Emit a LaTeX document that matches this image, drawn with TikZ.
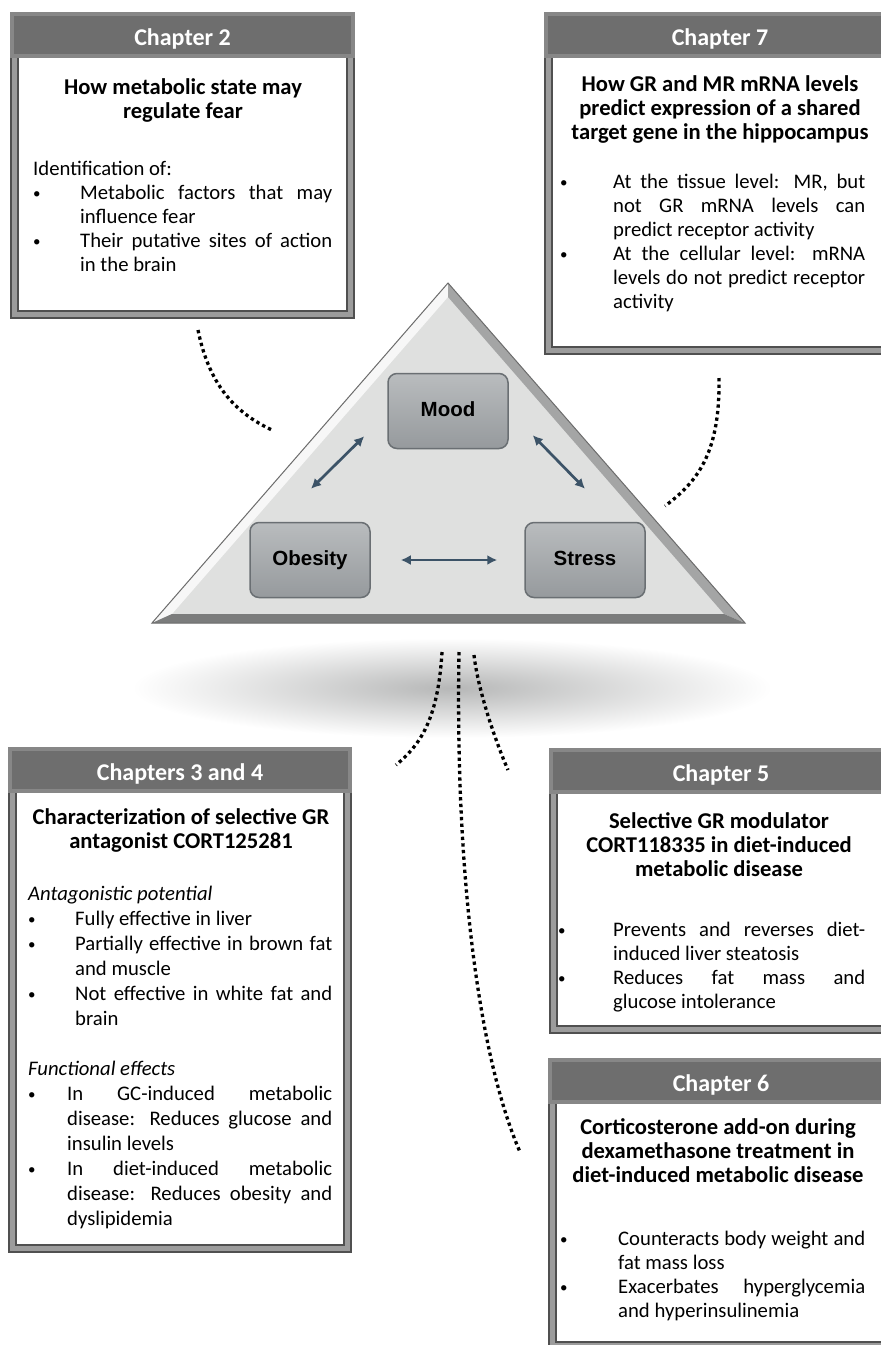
\documentclass[tikz,border=0pt]{standalone}
\usepackage{fontspec}
\setmainfont{Carlito}
\newfontfamily\hubfont{Liberation Sans}
\usetikzlibrary{arrows.meta}

\definecolor{framedark}{HTML}{505050}
\definecolor{framegray}{HTML}{9C9C9C}
\definecolor{headfill}{HTML}{6E6E6E}
\definecolor{headband}{HTML}{878787}
\definecolor{trifill}{HTML}{DFE0DF}
\definecolor{trilight}{HTML}{F7F7F7}
\definecolor{trimid}{HTML}{A4A5A5}
\definecolor{tridark}{HTML}{7B7C7C}
\definecolor{triedge}{HTML}{6C6C6C}
\definecolor{hubtop}{HTML}{B9BCBE}
\definecolor{hubbottom}{HTML}{969A9D}
\definecolor{hubedge}{HTML}{6A6F73}
\definecolor{linkblue}{HTML}{3C5367}
\definecolor{shadowgray}{HTML}{B6B7B7}

% bullet item with hanging indent (paragraph breaks written in the text)
\newcommand\chapitem[1]{\noindent\hangindent=#1\hangafter=1%
	\makebox[#1][l]{\raisebox{1.5pt}{\fontsize{15}{15}\selectfont\textbullet}}\ignorespaces}

\begin{document}
\begin{tikzpicture}[x=1pt, y=-1pt,
	chapbox/.style = {draw=framedark, line width=2pt,
		double=framegray, double distance=5pt, fill=white},
	chaphead/.style = {fill=headfill, draw=headband, line width=4pt,
		text=white, text height=20pt, text depth=0pt,
		font=\bfseries\fontsize{24}{28}\selectfont},
	chaptitle/.style = {anchor=north, align=center, inner sep=0pt,
		font=\bfseries\fontsize{22.6}{24}\selectfont},
	chaptext/.style = {anchor=north west, align=justify, inner sep=0pt,
		font=\fontsize{20.7}{24}\selectfont,
		execute at begin node={\parindent=0pt\tolerance=10000%
			\hyphenpenalty=10000\exhyphenpenalty=10000}},
	hub/.style = {rounded corners=9pt, draw=hubedge, line width=1.5pt,
		top color=hubtop, bottom color=hubbottom,
		minimum width=120pt, minimum height=75pt,
		text height=15pt, text depth=4pt,
		font=\hubfont\bfseries\fontsize{20.5}{24}\selectfont},
	link/.style = {{Latex[length=10pt,width=10pt]}-{Latex[length=10pt,width=10pt]},
		line width=2.7pt, draw=linkblue},
	dotlink/.style = {line width=3.3pt, dash pattern=on 3.3pt off 3.3pt}]

	\useasboundingbox (0,0) rectangle (881,1345);

	% shadow under the triangle
	\shade[inner color=shadowgray, outer color=white] (452,688) ellipse [x radius=320, y radius=50];

	% triangle
	\coordinate (apex) at (448,283);
	\coordinate (baseL) at (152,623);
	\coordinate (baseR) at (745,623);
	\coordinate (iapex) at (448,297);
	\coordinate (ibaseL) at (172,614);
	\coordinate (ibaseR) at (724,614);
	\fill[trifill] (apex) -- (baseR) -- (baseL) -- cycle;
	\fill[trilight] (apex) -- (iapex) -- (ibaseL) -- (baseL) -- cycle;
	\fill[trimid] (apex) -- (baseR) -- (ibaseR) -- (iapex) -- cycle;
	\fill[tridark] (baseL) -- (ibaseL) -- (ibaseR) -- (baseR) -- cycle;
	\draw[triedge, line width=1pt] (apex) -- (baseR) -- (baseL) -- cycle;

	\node[hub] (mood) at (448,411) {Mood};
	\node[hub] (obesity) at (310,560) {Obesity};
	\node[hub] (stress) at (585,560) {Stress};

	\draw[link] ([shift={(-23,-13)}]mood.south west) -- ([shift={(1,-33)}]obesity.north);
	\draw[link] ([shift={(24,-14)}]mood.south east) -- ([shift={(0,-33)}]stress.north);
	\draw[link, shorten <=30pt, shorten >=27pt] (obesity) -- (stress);

	% dotted links
	\coordinate (d2a) at (198,330);
	\coordinate (d2b) at (272,430);
	\coordinate (d7a) at (719,378);
	\coordinate (d7b) at (665,506);
	\coordinate (d34a) at (442,652);
	\coordinate (d34b) at (396,765);
	\coordinate (d6a) at (459,652);
	\coordinate (d6b) at (520,1152);
	\coordinate (d5a) at (474,655);
	\coordinate (d5b) at (508,770);
	\draw[dotlink] (d2a) .. controls (210,390) and (240,415) .. (d2b);
	\draw[dotlink] (d7a) .. controls (720,450) and (700,480) .. (d7b);
	\draw[dotlink] (d34a) .. controls (438,720) and (420,745) .. (d34b);
	\draw[dotlink] (d6a) .. controls (455,880) and (480,1060) .. (d6b);
	\draw[dotlink] (d5a) .. controls (478,690) and (495,740) .. (d5b);

	% Chapter 2
	\node[chapbox, minimum width=336pt, minimum height=298pt] (ch2) at (182.5,165.5) {};
	\node[chaphead, minimum width=341pt, minimum height=42pt] (ch2head) at (182.5,35) {Chapter 2};
	\node[chaptitle] (ch2title) at (183,78) {How metabolic state may\\regulate fear};
	\node[chaptext, text width=299pt] (ch2text) at (33,161) {Identification of:\par
		\chapitem{47pt}Metabolic factors that may\linebreak influence fear\par
		\chapitem{47pt}Their putative sites of action\linebreak in the brain\par};

	% Chapter 7
	\node[chapbox, minimum width=343pt, minimum height=334pt] (ch7) at (720,183.5) {};
	\node[chaphead, minimum width=348pt, minimum height=42pt] (ch7head) at (720,35) {Chapter 7};
	\node[chaptitle] (ch7title) at (720,75) {How GR and MR mRNA levels\\predict expression of a shared\\target gene in the hippocampus};
	\node[chaptext, text width=305pt] (ch7text) at (560,174) {%
		\chapitem{53pt}At the tissue level: MR, but\linebreak not GR mRNA levels can\linebreak predict receptor activity\par
		\chapitem{53pt}At the cellular level: mRNA\linebreak levels do not predict receptor\linebreak activity\par};

	% Chapters 3 and 4
	\node[chapbox, minimum width=335pt, minimum height=497pt] (ch34) at (180,1000) {};
	\node[chaphead, minimum width=340pt, minimum height=42pt] (ch34head) at (180,770) {Chapters 3 and 4};
	\node[chaptitle] (ch34title) at (181,808) {Characterization of selective GR\\antagonist CORT125281};
	\node[chaptext, text width=304pt, font=\fontsize{20.7}{25}\selectfont] (ch34text) at (28,886) {%
		\textit{Antagonistic potential}\par
		\chapitem{47pt}Fully effective in liver\par
		\chapitem{47pt}Partially effective in brown fat\linebreak and muscle\par
		\chapitem{47pt}Not effective in white fat and\linebreak brain\par
		\mbox{}\par
		\textit{Functional effects}\par
		\chapitem{39pt}In GC-induced metabolic\linebreak disease: Reduces glucose and\linebreak insulin levels\par
		\chapitem{39pt}In diet-induced metabolic\linebreak disease: Reduces obesity and\linebreak dyslipidemia\par};

	% Chapter 5
	\node[chapbox, minimum width=335pt, minimum height=277pt] (ch5) at (721,891) {};
	\node[chaphead, minimum width=340pt, minimum height=42pt] (ch5head) at (721,771) {Chapter 5};
	\node[chaptitle] (ch5title) at (719,812) {Selective GR modulator\\CORT118335 in diet-induced\\metabolic disease};
	\node[chaptext, text width=307pt] (ch5text) at (558,922) {%
		\chapitem{55pt}Prevents and reverses diet-\linebreak induced liver steatosis\par
		\chapitem{55pt}Reduces fat mass and\linebreak glucose intolerance\par};

	% Chapter 6
	\node[chapbox, minimum width=337pt, minimum height=283pt] (ch6) at (721,1204) {};
	\node[chaphead, minimum width=342pt, minimum height=42pt] (ch6head) at (721,1081) {Chapter 6};
	\node[chaptitle] (ch6title) at (718,1118) {Corticosterone add-on during\\dexamethasone treatment in\\diet-induced metabolic disease};
	\node[chaptext, text width=305pt] (ch6text) at (560,1231) {%
		\chapitem{58pt}Counteracts body weight and\linebreak fat mass loss\par
		\chapitem{58pt}Exacerbates hyperglycemia\linebreak and hyperinsulinemia\par};
\end{tikzpicture}
\end{document}
